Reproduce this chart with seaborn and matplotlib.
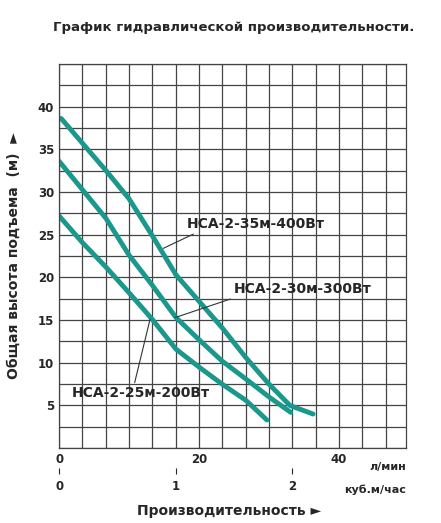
import numpy as np
import pandas as pd
import matplotlib
matplotlib.use('Agg')
import matplotlib.pyplot as plt
import seaborn as sns

# flow (l/min) vs head (m)
q_400 = [0.3, 6.7, 10, 13.3, 16.7, 20, 23.3, 26.7, 30, 33, 36.3]
h_400 = [38.6, 32.5, 29.2, 24.9, 20.3, 17.2, 14.1, 10.6, 7.5, 5.0, 4.0]
q_300 = [0, 3.3, 6.7, 10, 13.3, 16.7, 20, 23.3, 26.7, 30, 33.1]
h_300 = [33.6, 30.3, 26.9, 22.6, 19.1, 15.3, 12.7, 10.2, 8.1, 6.0, 4.2]
q_200 = [0, 3.3, 6.7, 10, 13.3, 16.7, 20, 23.3, 26.7, 29.7]
h_200 = [27.2, 24.1, 21.2, 18.2, 15.1, 11.6, 9.5, 7.5, 5.6, 3.3]
labels = ['НСА-2-35м-400Вт', 'НСА-2-30м-300Вт', 'НСА-2-25м-200Вт']

df = pd.concat([
    pd.DataFrame({'q': q_400, 'h': h_400, 'model': labels[0]}),
    pd.DataFrame({'q': q_300, 'h': h_300, 'model': labels[1]}),
    pd.DataFrame({'q': q_200, 'h': h_200, 'model': labels[2]}),
])

sns.set_style('white')
plt.rcParams['font.family'] = ['DejaVu Sans']
teal = '#1b978c'

fig = plt.figure(figsize=(4.41, 5.23), dpi=100)
ax = fig.add_axes([0.134, 0.143, 0.787, 0.735])
sns.lineplot(data=df, x='q', y='h', units='model', estimator=None, sort=False,
             color=teal, lw=3.5, ax=ax, legend=False)

ax.set_xlim(0, 49.6)
ax.set_ylim(0, 45)
ax.set_xticks([0, 20, 40])
ax.set_yticks([5, 10, 15, 20, 25, 30, 35, 40])
ax.set_xticks(np.arange(0, 50, 10 / 3), minor=True)
ax.set_yticks(np.arange(0, 45.1, 2.5), minor=True)
ax.grid(True, which='both', color='#444444', lw=0.9)
ax.set_axisbelow(True)
ax.tick_params(which='both', length=0, labelsize=8.5)
for t in ax.get_xticklabels() + ax.get_yticklabels():
    t.set_fontweight('bold')
for s in ax.spines.values():
    s.set_color('#444444')
    s.set_linewidth(0.9)
ax.set_xlabel('')
ax.set_ylabel('Общая высота подъема  (м)  ►', fontsize=10, fontweight='bold', labelpad=12)
ax.text(1.0, -0.035, 'л/мин', transform=ax.transAxes, ha='right', va='top',
        fontsize=8, fontweight='bold')

sec = ax.secondary_xaxis(-0.06, functions=(lambda x: x / 16.67, lambda x: x * 16.67))
sec.set_xticks([0, 1, 2])
sec.spines['bottom'].set_visible(False)
sec.tick_params(length=5, labelsize=8.5, direction='inout')
for t in sec.get_xticklabels():
    t.set_fontweight('bold')
ax.text(1.0, -0.095, 'куб.м/час', transform=ax.transAxes, ha='right', va='top',
        fontsize=8, fontweight='bold')

ax.annotate(labels[0], xy=(14.9, 23.4), xytext=(18.2, 25.8), fontsize=10, fontweight='bold',
            arrowprops=dict(arrowstyle='-', color='#333333', lw=0.8,
                            shrinkA=0, shrinkB=0, relpos=(0.1, 0)))
ax.annotate(labels[1], xy=(16.6, 15.3), xytext=(24.9, 18.2), fontsize=10, fontweight='bold',
            arrowprops=dict(arrowstyle='-', color='#333333', lw=0.8,
                            shrinkA=0, shrinkB=0, relpos=(0.05, 0)))
ax.annotate(labels[2], xy=(13.0, 15.1), xytext=(1.8, 6.0), fontsize=10, fontweight='bold',
            arrowprops=dict(arrowstyle='-', color='#333333', lw=0.8,
                            shrinkA=0, shrinkB=0, relpos=(0.45, 1)))

fig.text(0.53, 0.94, 'График гидравлической производительности.', ha='center',
         fontsize=9.5, fontweight='bold')
fig.text(0.52, 0.015, 'Производительность ►', ha='center', fontsize=10, fontweight='bold')

fig.savefig('out.png', dpi=100)
